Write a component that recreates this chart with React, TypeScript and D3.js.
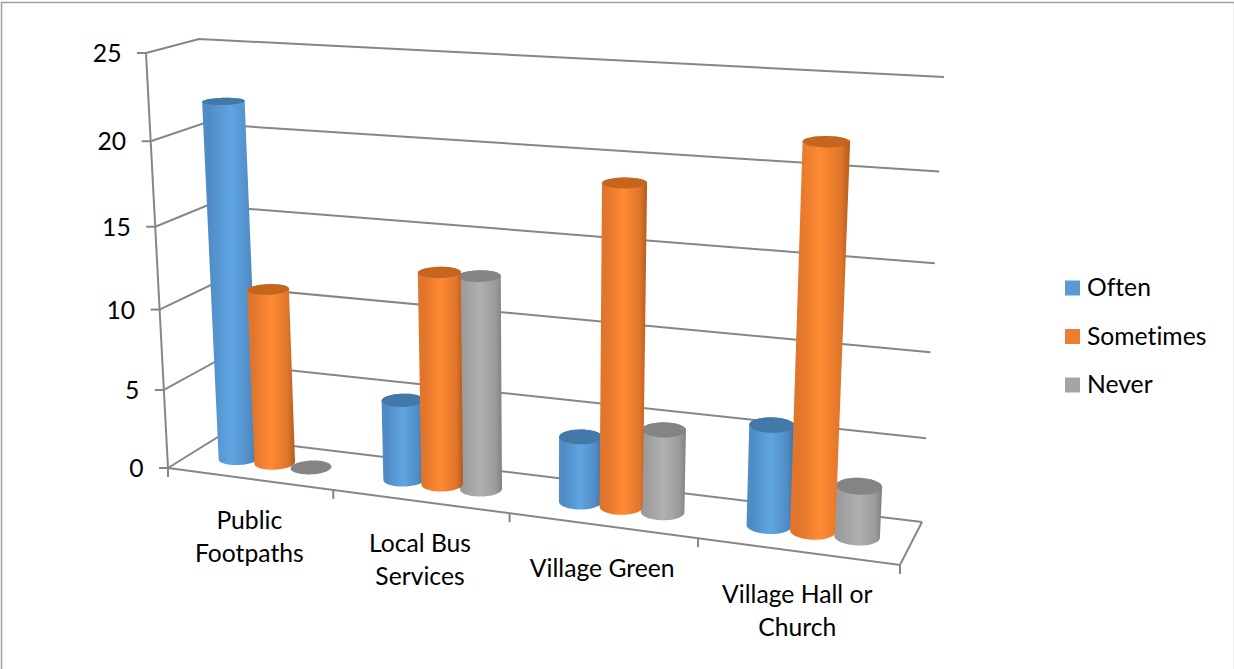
import { useEffect, useRef } from 'react';
import * as d3 from 'd3';

const categories = [['Public', 'Footpaths'], ['Local Bus', 'Services'], ['Village Green'], ['Village Hall or', 'Church']];
const seriesNames = ['Often', 'Sometimes', 'Never'];
const often = [22, 5, 4, 6];
const sometimes = [11, 13, 19, 22];
const never = [0, 13, 5, 3];
const seriesValues = [often, sometimes, never];
const valueTicks = [0, 5, 10, 15, 20, 25];

const width = 1234;
const height = 669;

type Pt = [number, number];

// corners of the chart box: front-left, front-right, back-right, back-left
const floorCorners: Pt[] = [[168, 468], [900, 565], [922, 522], [218, 437]];
const ceilCorners: Pt[] = [[146, 53], [921, 104], [944, 77], [199, 39]];

const colors = [
  { top: '#4379a9', edge: '#3f6f9e', side: '#4f8cc6', mid: '#5fa5e2' },
  { top: '#c5651f', edge: '#b35a1c', side: '#e0752b', mid: '#ff8a33' },
  { top: '#848484', edge: '#808080', side: '#9c9c9c', mid: '#b0b0b0' },
];
const legendColors = ['#5B9BD5', '#ED7D31', '#A5A5A5'];
const gridColor = '#868686';
const fontSize = 24.7;

const lerp = (a: Pt, b: Pt, t: number): Pt => [a[0] + (b[0] - a[0]) * t, a[1] + (b[1] - a[1]) * t];

// bilinear position on a face, with the category axis foreshortened to the left
function faceAt(q: Pt[], u: number, d: number): Pt {
  const w = u / (1 + 0.143 * (1 - u));
  return lerp(lerp(q[0], q[1], w), lerp(q[3], q[2], w), d);
}

const valueScale = d3.scaleLinear().domain([0, 25]).range([0, 1]);

// u along the categories, d into the depth, value up the wall
function project(u: number, d: number, value: number): Pt {
  const f = valueScale(value);
  const t = f / (1 + 0.08 * (1 - f));
  return lerp(faceAt(floorCorners, u, d), faceAt(ceilCorners, u, d), t);
}

const x0 = d3.scaleBand<number>().domain(d3.range(categories.length)).range([0, 1]);
const x1 = d3.scaleBand<number>()
  .domain(d3.range(seriesNames.length))
  .range([0, x0.bandwidth()])
  .paddingInner(0)
  .paddingOuter(0.75);

const depthRadius = 0.2;
const circleAngles = d3.range(0, 2 * Math.PI, Math.PI / 36);

export default function App() {
  const svgRef = useRef<SVGSVGElement>(null);

  useEffect(() => {
    if (!svgRef.current) return;
    const svg = d3.select(svgRef.current);
    svg.selectAll('*').remove();

    const line = d3.line<Pt>();

    // chart frame, only the top and left show strongly
    svg.append('path').attr('d', line([[width - 0.5, 3], [width - 0.5, height]]))
      .attr('fill', 'none').attr('stroke', '#eeeeee');
    svg.append('path').attr('d', line([[1.5, height], [1.5, 2.5], [width, 2.5]]))
      .attr('fill', 'none').attr('stroke', '#a0a0a0').attr('stroke-width', 1.5);

    const addLine = (pts: Pt[]) => svg.append('path').attr('d', line(pts))
      .attr('fill', 'none').attr('stroke', gridColor).attr('stroke-width', 2);

    // walls
    valueTicks.forEach((v) => {
      addLine([project(0, 0, v), project(0, 1, v), project(1, 1, v)]);
      const p = project(0, 0, v);
      addLine([[p[0] - 9, p[1]], p]);
      svg.append('text')
        .attr('x', p[0] - 24.5)
        .attr('y', p[1] + 9)
        .attr('text-anchor', 'end')
        .attr('font-size', fontSize)
        .text(v);
    });
    addLine([project(0, 0, 0), project(0, 0, 25)]);

    // floor front and side
    addLine([project(0, 0, 0), project(1, 0, 0), project(1, 1, 0)]);
    d3.range(categories.length + 1).forEach((i) => {
      const p = project(i / categories.length, 0, 0);
      addLine([p, [p[0], p[1] + 9]]);
    });

    const defs = svg.append('defs');
    const circle = (u: number, r: number, value: number) =>
      circleAngles.map((t) => project(u + r * Math.cos(t), 0.5 + depthRadius * Math.sin(t), value));

    categories.forEach((_, c) => {
      // orange is nearest the viewer in each cluster
      [0, 2, 1].forEach((s) => {
        const value = seriesValues[s][c];
        const u = x0(c)! + x1(s)! + x1.bandwidth() / 2 + 0.003;
        const r = x1.bandwidth() / 2;
        const color = colors[s];
        const bottom = circle(u, r, 0);
        const top = circle(u, r, value);

        if (value > 0) {
          const hull = d3.polygonHull([...bottom, ...top])!;
          const pl = d3.least(hull, (p) => p[0])!;
          const pr = d3.greatest(hull, (p) => p[0])!;
          const id = `cyl-${c}-${s}`;
          const grad = defs.append('linearGradient').attr('id', id)
            .attr('gradientUnits', 'userSpaceOnUse')
            .attr('x1', pl[0]).attr('y1', 0).attr('x2', pr[0]).attr('y2', 0);
          [[0, color.side], [0.12, color.side], [0.5, color.mid], [0.85, color.side], [1, color.edge]]
            .forEach(([o, col]) => grad.append('stop').attr('offset', o as number).attr('stop-color', col as string));
          svg.append('path').attr('d', line(hull)! + 'Z').attr('fill', `url(#${id})`);
        }
        svg.append('path').attr('d', line(top)! + 'Z').attr('fill', color.top);
      });
    });

    // category labels
    categories.forEach((lines, c) => {
      const p = project((x0(c)! + x0.bandwidth() / 2), 0, 0);
      const first = 50 + c * 0.6;
      lines.forEach((txt, i) => {
        svg.append('text')
          .attr('x', p[0])
          .attr('y', p[1] + first + i * 33)
          .attr('text-anchor', 'middle')
          .attr('font-size', fontSize)
          .text(txt);
      });
    });

    // legend
    const legendY = d3.scalePoint<string>().domain(seriesNames).range([288, 385]);
    seriesNames.forEach((name, s) => {
      svg.append('rect').attr('x', 1065).attr('y', legendY(name)! - 7.5)
        .attr('width', 15).attr('height', 15).attr('fill', legendColors[s]);
      svg.append('text').attr('x', 1087).attr('y', legendY(name)! + 8)
        .attr('font-size', fontSize).text(name);
    });
  }, []);

  return (
    <svg
      ref={svgRef}
      width={width}
      height={height}
      style={{ position: 'absolute', left: 0, top: 0, fontFamily: 'Lato, sans-serif', fontVariantLigatures: 'none', background: 'white' }}
    />
  );
}
